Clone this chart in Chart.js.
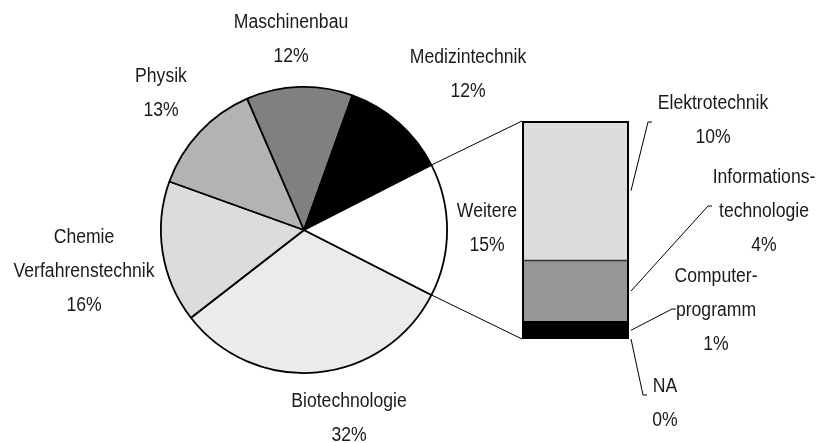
<!DOCTYPE html>
<html><head><meta charset="utf-8">
<script src="https://cdn.jsdelivr.net/npm/chart.js@4.4.0/dist/chart.umd.min.js"></script>
<style>
html,body{margin:0;padding:0;background:#fff;}
#wrap{position:relative;width:816px;height:443px;}
canvas{position:absolute;left:0;top:0;}
</style></head><body>
<div id="wrap"><canvas id="pie" width="816" height="443"></canvas><canvas id="bar" width="816" height="443"></canvas></div>
<script>
// ---- data ----
const pieCategories = [["Biotechnologie"], ["Chemie", "Verfahrenstechnik"], ["Physik"], ["Maschinenbau"], ["Medizintechnik"], ["Weitere"]];
const pieValues = [32, 16, 13, 12, 12, 15];
const barCategories = [["Elektrotechnik"], ["Informations-", "technologie"], ["Computer-", "programm"], ["NA"]];
const barValues = [9.6, 4.2, 1.2, 0];

// ---- styles / layout ----
const pieColors = ["#ebebeb", "#dcdcdc", "#b3b3b3", "#808080", "#000000", "#ffffff"];
const barColors = ["#dddddd", "#969696", "#000000", "#ffffff"];
const pieLabelPos = [[349, 407], [84, 243], [161, 82], [291, 28], [468, 63], [487, 217]];
const barLabelPos = [[713, 109], [764, 183], [716, 282], [665, 392]];
const leaderEnds = [[648, 122], [708, 206], [672, 309], [643, 395]];
const LINE = 34;
const FONT = '20px "Liberation Sans", Arial, sans-serif';

const pieTotal = pieValues.reduce((a, b) => a + b, 0);
const barTotal = barValues.reduce((a, b) => a + b, 0);
const pct = v => Math.round(v / pieTotal * 100) + '%';

function drawLines(ctx, lines, cx, y0) {
  ctx.save();
  ctx.font = FONT;
  ctx.fillStyle = '#1a1a1a';
  ctx.textAlign = 'center';
  ctx.textBaseline = 'alphabetic';
  lines.forEach((t, k) => {
    ctx.save();
    ctx.translate(cx, y0 + k * LINE);
    ctx.scale(0.88, 1);
    ctx.fillText(t, 0, 0);
    ctx.restore();
  });
  ctx.restore();
}

const pieChart = new Chart(document.getElementById('pie'), {
  type: 'pie',
  data: {
    labels: pieCategories.map(l => l.join(' ')),
    datasets: [{ data: pieValues, backgroundColor: pieColors, borderColor: '#000', borderWidth: 1.8 }]
  },
  options: {
    responsive: false, animation: false, rotation: 117, events: [],
    layout: { padding: { left: 160, right: 368, top: 86, bottom: 69 } },
    plugins: { legend: { display: false }, tooltip: { enabled: false } }
  }
});

const overlayPlugin = {
  id: 'overlay',
  afterDraw(chart) {
    const ctx = chart.ctx;
    const nB = barValues.length;
    const dsIndex = i => nB - 1 - i;
    const topBar = chart.getDatasetMeta(dsIndex(0)).data[0].getProps(['x', 'y', 'base', 'width'], true);
    const botBar = chart.getDatasetMeta(dsIndex(nB - 1)).data[0].getProps(['x', 'y', 'base', 'width'], true);
    const left = topBar.x - topBar.width / 2, right = topBar.x + topBar.width / 2;
    const top = topBar.y, bottom = botBar.base;

    ctx.save();
    ctx.strokeStyle = '#000';
    ctx.lineWidth = 2;
    ctx.strokeRect(left + 1, top + 1, right - left - 2, bottom - top - 2);

    const wi = pieCategories.length - 1;
    const arc = pieChart.getDatasetMeta(0).data[wi].getProps(['x', 'y', 'startAngle', 'endAngle', 'outerRadius'], true);
    const p1 = [arc.x + arc.outerRadius * Math.cos(arc.startAngle), arc.y + arc.outerRadius * Math.sin(arc.startAngle)];
    const p2 = [arc.x + arc.outerRadius * Math.cos(arc.endAngle), arc.y + arc.outerRadius * Math.sin(arc.endAngle)];
    ctx.lineWidth = 1;
    ctx.beginPath();
    ctx.moveTo(p1[0], p1[1]); ctx.lineTo(left, top);
    ctx.moveTo(p2[0], p2[1]); ctx.lineTo(left, bottom);
    ctx.stroke();

    ctx.beginPath();
    for (let i = 0; i < nB; i++) {
      const el = chart.getDatasetMeta(dsIndex(i)).data[0].getProps(['x', 'y', 'base', 'width'], true);
      const my = (el.y + el.base) / 2;
      const rx = el.x + el.width / 2 + 2;
      const e = leaderEnds[i];
      ctx.moveTo(rx, my); ctx.lineTo(e[0], e[1]); ctx.lineTo(e[0] + 4, e[1]);
    }
    ctx.stroke();
    ctx.restore();

    pieCategories.forEach((lines, i) => drawLines(ctx, lines.concat([pct(pieValues[i])]), pieLabelPos[i][0], pieLabelPos[i][1]));
    barCategories.forEach((lines, i) => drawLines(ctx, lines.concat([pct(barValues[i])]), barLabelPos[i][0], barLabelPos[i][1]));
  }
};

const barChart = new Chart(document.getElementById('bar'), {
  type: 'bar',
  data: {
    labels: ['Weitere'],
    datasets: barValues.map((v, i) => ({
      label: barCategories[i].join(''), data: [v], backgroundColor: barColors[i],
      borderColor: '#000', borderWidth: 1, borderSkipped: false,
      barPercentage: 1, categoryPercentage: 1
    })).reverse()
  },
  options: {
    responsive: false, animation: false, events: [],
    layout: { padding: { left: 522, right: 187, top: 121, bottom: 104 } },
    scales: {
      x: { stacked: true, display: false },
      y: { stacked: true, display: false, min: 0, max: barTotal }
    },
    plugins: { legend: { display: false }, tooltip: { enabled: false } }
  },
  plugins: [overlayPlugin]
});
</script>
</body></html>
